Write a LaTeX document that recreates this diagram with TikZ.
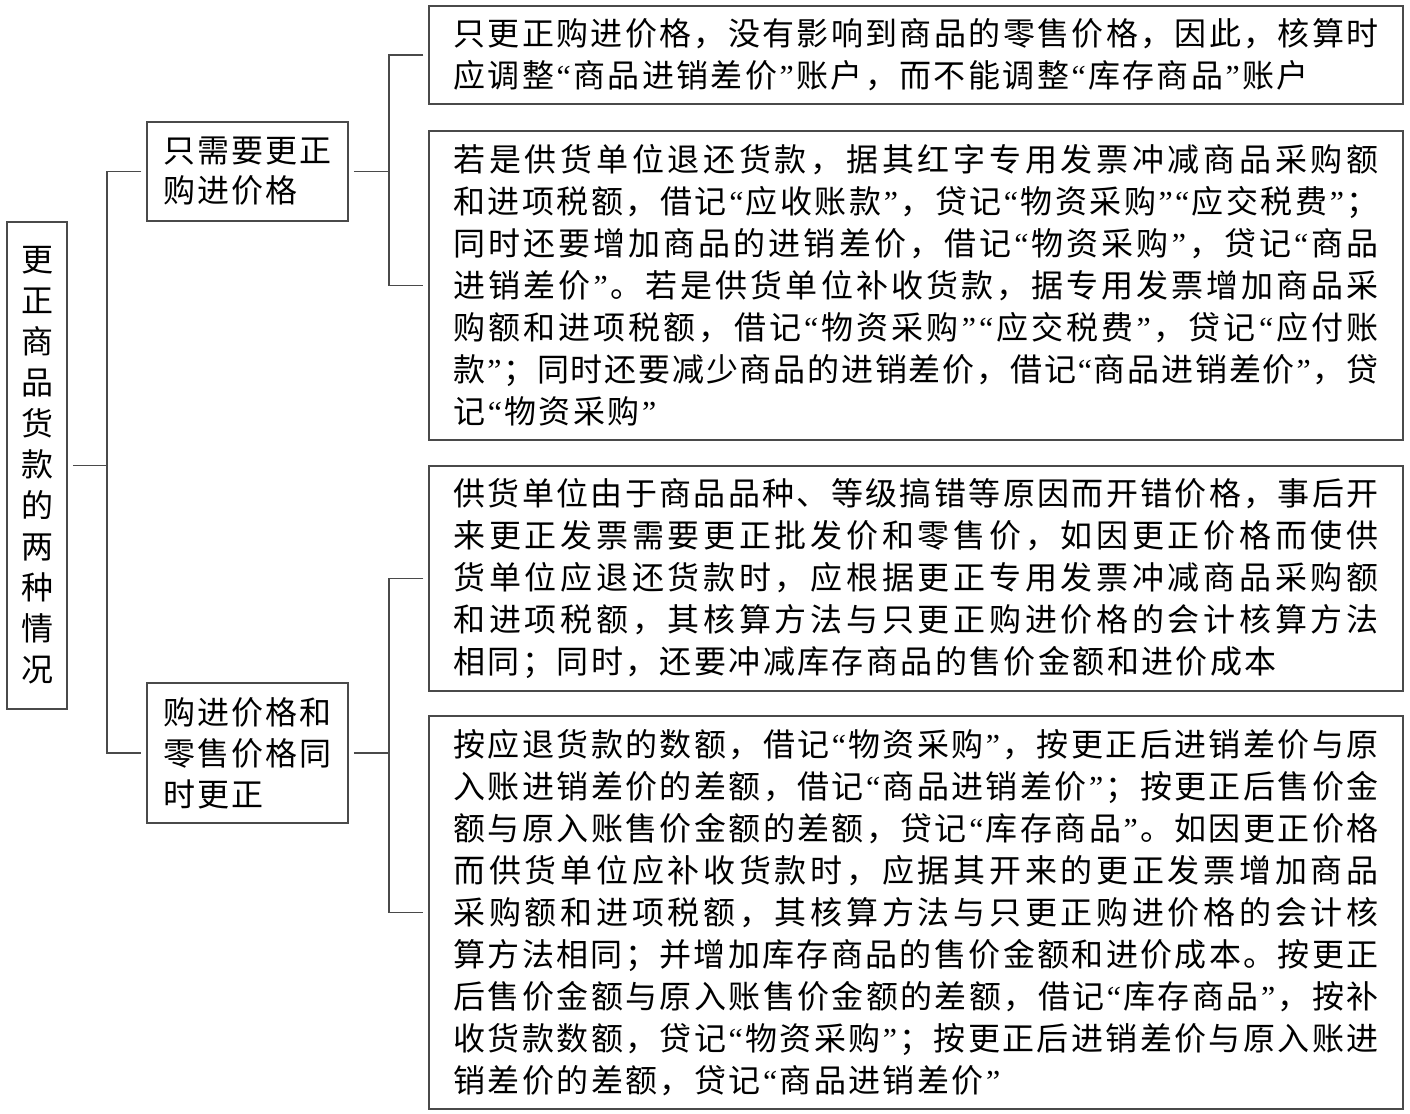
\documentclass[tikz,border=0pt]{standalone}
\usepackage{fontspec}
\newfontfamily\cjk{Noto Sans CJK SC}
\newfontfamily\qf{Liberation Serif}
\definecolor{linec}{HTML}{4A4A4A}
\newlength\lw \setlength\lw{462.5pt}
\newlength\chgap \setlength\chgap{1.2pt}
\def\qo{{\qf “}}
\def\qc{{\qf ”}}
\def\jline#1{\hbox to\lw{\jla#1\relax}}
\def\jla#1{#1\jlb}
\def\jlb#1{\ifx\relax#1\else\hfil#1\expandafter\jlb\fi}
\def\lline#1{\hbox{\lla#1\relax}}
\def\lla#1{#1\llb}
\def\llb#1{\ifx\relax#1\else\kern\chgap#1\expandafter\llb\fi}
\begin{document}
\begin{tikzpicture}[x=0.5pt,y=-0.5pt,
  box/.style={draw=linec, line width=0.75pt, inner sep=0pt, text=black,
    font=\cjk\fontsize{16pt}{21pt}\selectfont},
  conn/.style={draw=linec, line width=0.75pt}]
\useasboundingbox (0,0) rectangle (1410,1114);
% root
\node[box, minimum width=30pt, minimum height=243.5pt] (root) at (37,465.5)
  {\vbox{\baselineskip=20.5pt
   \hbox{更}\hbox{正}\hbox{商}\hbox{品}\hbox{货}\hbox{款}\hbox{的}\hbox{两}\hbox{种}\hbox{情}\hbox{况}}};
% middle
\node[box, minimum width=100.5pt, minimum height=49.5pt] (mid1) at (247.5,171.5)
  {\vbox{\baselineskip=20pt \chgap=1pt
   \lline{只需要更正}\lline{购进价格}}};
\node[box, minimum width=100.5pt, minimum height=70pt] (mid2) at (247.5,753)
  {\vbox{\baselineskip=20.5pt \chgap=1pt
   \lline{购进价格和}\lline{零售价格同}\lline{时更正}}};
% leaves
\node[box, minimum width=487pt, minimum height=49pt] (leaf1) at (916,55)
  {\vbox{\baselineskip=21pt
   \jline{只更正购进价格，没有影响到商品的零售价格，因此，核算时}
   \lline{应调整\qo 商品进销差价\qc 账户，而不能调整\qo 库存商品\qc 账户}}};
\node[box, minimum width=487pt, minimum height=154.5pt] (leaf2) at (916,285.5)
  {\vbox{\baselineskip=21pt
   \jline{若是供货单位退还货款，据其红字专用发票冲减商品采购额}
   \jline{和进项税额，借记\qo 应收账款\qc ，贷记\qo 物资采购\qc\qo 应交税费\qc ；}
   \jline{同时还要增加商品的进销差价，借记\qo 物资采购\qc ，贷记\qo 商品}
   \jline{进销差价\qc 。若是供货单位补收货款，据专用发票增加商品采}
   \jline{购额和进项税额，借记\qo 物资采购\qc\qo 应交税费\qc ，贷记\qo 应付账}
   \jline{款\qc ；同时还要减少商品的进销差价，借记\qo 商品进销差价\qc ，贷}
   \lline{记\qo 物资采购\qc}}};
\node[box, minimum width=487pt, minimum height=112.5pt] (leaf3) at (916,578.5)
  {\vbox{\baselineskip=21pt
   \jline{供货单位由于商品品种、等级搞错等原因而开错价格，事后开}
   \jline{来更正发票需要更正批发价和零售价，如因更正价格而使供}
   \jline{货单位应退还货款时，应根据更正专用发票冲减商品采购额}
   \jline{和进项税额，其核算方法与只更正购进价格的会计核算方法}
   \lline{相同；同时，还要冲减库存商品的售价金额和进价成本}}};
\node[box, minimum width=487pt, minimum height=196.5pt] (leaf4) at (916,912.5)
  {\vbox{\baselineskip=21pt
   \jline{按应退货款的数额，借记\qo 物资采购\qc ，按更正后进销差价与原}
   \jline{入账进销差价的差额，借记\qo 商品进销差价\qc ；按更正后售价金}
   \jline{额与原入账售价金额的差额，贷记\qo 库存商品\qc 。如因更正价格}
   \jline{而供货单位应补收货款时，应据其开来的更正发票增加商品}
   \jline{采购额和进项税额，其核算方法与只更正购进价格的会计核}
   \jline{算方法相同；并增加库存商品的售价金额和进价成本。按更正}
   \jline{后售价金额与原入账售价金额的差额，借记\qo 库存商品\qc ，按补}
   \jline{收货款数额，贷记\qo 物资采购\qc ；按更正后进销差价与原入账进}
   \lline{销差价的差额，贷记\qo 商品进销差价\qc}}};
% connectors
\coordinate (j1) at (107,465.5);
\coordinate (j2) at (389,171.5);
\coordinate (j3) at (389,753);
\draw[conn, shorten <=2.5pt] (root.east) -- (j1);
\draw[conn, shorten <=2.5pt, shorten >=2.5pt] (mid1.west) -| (j1) |- (mid2.west);
\draw[conn, shorten <=2.5pt] (mid1.east) -- (j2);
\draw[conn, shorten <=2.5pt, shorten >=2.5pt] (leaf1.west) -| (j2) |- (leaf2.west);
\draw[conn, shorten <=2.5pt] (mid2.east) -- (j3);
\draw[conn, shorten <=2.5pt, shorten >=2.5pt] (leaf3.west) -| (j3) |- (leaf4.west);
\end{tikzpicture}
\end{document}
